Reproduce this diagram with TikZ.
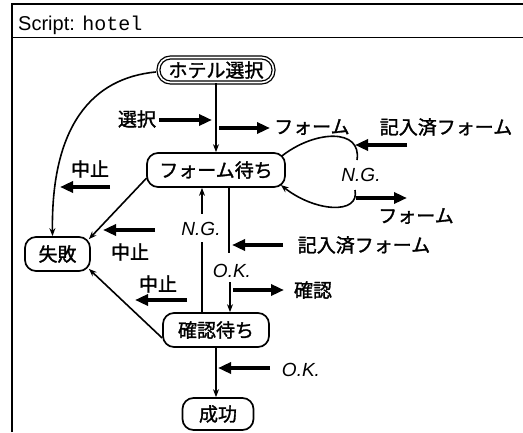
\documentclass[tikz,border=0pt]{standalone}
\usepackage{fontspec}
\setsansfont{Liberation Sans}
\setmonofont{Liberation Mono}
\newfontfamily\jpfont{Noto Sans CJK JP}[FakeBold=1.5]
\usetikzlibrary{arrows.meta,calc}
\begin{document}
\begin{tikzpicture}[x=1pt,y=-1pt,
  state/.style={draw, line width=1.7pt, rounded corners=11pt, inner sep=0pt,
    font=\jpfont\fontsize{19}{19}\selectfont},
  lab/.style={font=\jpfont\fontsize{19}{19}\selectfont, inner sep=1pt},
  en/.style={font=\sffamily\itshape\fontsize{19}{19}\selectfont, inner sep=1pt},
  thk/.style={line width=3.8pt, -{Triangle[length=13pt,width=11pt]}},
  thn/.style={line width=1.6pt, -{Stealth[length=8pt,width=6pt]}},
  plain/.style={line width=1.6pt},
  frame/.style={line width=1.8pt}]
\useasboundingbox (0,0) rectangle (523,432);
\fill[white] (0,0) rectangle (523,432);
% frame
\coordinate (fbl) at (12,432);
\coordinate (ftl) at (12,4);
\coordinate (ftr) at (523,4);
\coordinate (fsl) at (12,37.5);
\coordinate (fsr) at (523,37.5);
\draw[frame] (fbl) -- (ftl) -- (ftr);
\draw[frame] (fsl) -- (fsr);
\node[anchor=base west, inner sep=0pt] (title) at (18,30)
  {\sffamily\fontsize{20}{20}\selectfont Script: \ttfamily\fontsize{20}{20}\selectfont hotel};
% states
\node[state, double, double distance=1.6pt, line width=1.3pt, rounded corners=12pt,
  minimum width=115pt, minimum height=25pt] (hotel) at (216,70) {ホテル選択};
\node[state, minimum width=138pt, minimum height=34pt] (formwait) at (216,170) {フォーム待ち};
\node[state, minimum width=65pt, minimum height=34pt] (fail) at (57.5,254) {失敗};
\node[state, minimum width=106pt, minimum height=34pt] (confirmwait) at (216,330) {確認待ち};
\node[state, minimum width=71pt, minimum height=32pt] (success) at (218,414) {成功};
% labels
\node[lab] (selL) at (137,119) {選択};
\node[lab, anchor=west] (formL1) at (273,127) {フォーム};
\node[lab] (kinyuL1) at (446,127) {記入済フォーム};
\node[en] (ngR) at (361,175) {N.G.};
\node[lab] (formL2) at (416,216) {フォーム};
\node[en] (ngV) at (201,229) {N.G.};
\node[lab] (kinyuL2) at (364,245) {記入済フォーム};
\node[en] (okV) at (232,271) {O.K.};
\node[lab] (kakL) at (313,290) {確認};
\node[en] (okB) at (301,370) {O.K.};
\node[lab] (ab1) at (90,169) {中止};
\node[lab] (ab2) at (130,252) {中止};
\node[lab] (ab3) at (158,284) {中止};
% thin connectors
\draw[thn] (hotel.south) -- (hotel.south |- formwait.north);
\draw[thn] ($(hotel.west)+(-2,2)$) .. controls (92,78) and (51,126) .. ($(fail.north)+(-5,0)$);
\draw[thn] ($(formwait.west)+(0.5,8)$) -- ($(fail.north east)+(-2,3)$);
\draw[thn] ($(confirmwait.west)+(0,8)$) -- ($(fail.south east)+(-2,-3)$);
% self loop on formwait
\coordinate (lpA) at (357,160);
\coordinate (lpB) at (355,190);
\draw[plain] ($(formwait.east)+(-4,-14)$) .. controls (315,130) and (362,128) .. (lpA);
\draw[thn] (lpB) .. controls (360,215) and (315,212) .. ($(formwait.east)+(-5,15)$);
% N.G. back to formwait
\draw[plain] ($(confirmwait.north)+(-14,0)$) -- ++(0,-70);
\draw[thn] ($(formwait.south)+(-14,26)$) -- ($(formwait.south)+(-14,0)$);
% O.K. to confirmwait
\draw[plain] ($(formwait.south)+(13,0)$) -- ++(0,65);
\draw[thn] ($(confirmwait.north)+(14,-30)$) -- ($(confirmwait.north)+(14,0)$);
% confirmwait to success
\draw[thn] (confirmwait.south) -- (confirmwait.south |- success.north);
% thick message arrows
\coordinate (a1s) at (159,120); \coordinate (a1e) at (212,120);
\draw[thk] (a1s) -- (a1e);
\coordinate (a2s) at (219,128); \coordinate (a2e) at (270,128);
\draw[thk] (a2s) -- (a2e);
\coordinate (a3s) at (407,145); \coordinate (a3e) at (355,145);
\draw[thk] (a3s) -- (a3e);
\coordinate (a4s) at (356,198); \coordinate (a4e) at (407,198);
\draw[thk] (a4s) -- (a4e);
\coordinate (a5s) at (283,245); \coordinate (a5e) at (232,245);
\draw[thk] (a5s) -- (a5e);
\coordinate (a6s) at (233,290); \coordinate (a6e) at (284,290);
\draw[thk] (a6s) -- (a6e);
\coordinate (a7s) at (270,368); \coordinate (a7e) at (218,368);
\draw[thk] (a7s) -- (a7e);
\coordinate (a8s) at (110,187); \coordinate (a8e) at (60,187);
\draw[thk] (a8s) -- (a8e);
\coordinate (a9s) at (155,230); \coordinate (a9e) at (103,230);
\draw[thk] (a9s) -- (a9e);
\coordinate (a10s) at (187,300); \coordinate (a10e) at (135,300);
\draw[thk] (a10s) -- (a10e);
\end{tikzpicture}
\end{document}
